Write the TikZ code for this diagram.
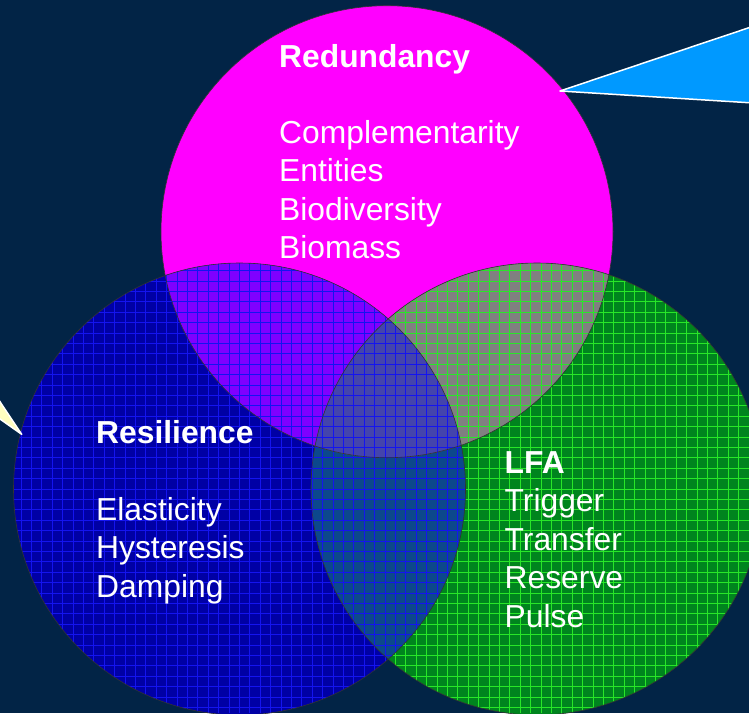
\documentclass[tikz,border=0pt]{standalone}
\usepackage{fontspec}
\setmainfont{Liberation Sans}
\usetikzlibrary{positioning}

\definecolor{bgnavy}{RGB}{2,36,70}
\definecolor{magfill}{RGB}{255,0,255}
\definecolor{blufill}{RGB}{0,0,165}
\definecolor{blugrid}{RGB}{20,20,240}
\definecolor{grnfill}{RGB}{0,132,30}
\definecolor{grngrid}{RGB}{40,230,40}
\definecolor{magblu}{RGB}{128,0,255}
\definecolor{maggrn}{RGB}{128,128,128}
\definecolor{blugrn}{RGB}{12,72,140}
\definecolor{allthree}{RGB}{68,68,172}
\definecolor{callblue}{RGB}{0,153,255}
\definecolor{callyellow}{RGB}{255,255,192}

\tikzset{
  lbl/.style={anchor=base west,inner sep=0pt,text=white,font=\fontsize{31.8}{38.5}\selectfont},
  hdr/.style={lbl,font=\fontsize{31.8}{38.5}\selectfont\bfseries},
  rim/.style={draw=black!80,line width=0.6pt},
  callout/.style={draw=white,line width=1.5pt,line join=round}
}

\begin{document}
\begin{tikzpicture}[x=1pt,y=-1pt]
\useasboundingbox (0,0) rectangle (749,713);
\clip (0,0) rectangle (749,713);
\fill[bgnavy] (0,0) rectangle (749,713);

\coordinate (mag) at (387,231.7);
\coordinate (blu) at (239.5,489);
\coordinate (grn) at (537,489);

% base fills
\fill[magfill] (mag) circle[radius=226pt];
\fill[blufill] (blu) circle[radius=226pt];
\fill[grnfill] (grn) circle[radius=226pt];
\begin{scope}
  \clip (blu) circle[radius=226pt];
  \fill[magblu] (mag) circle[radius=226pt];
  \fill[blugrn] (grn) circle[radius=226pt];
  \clip (grn) circle[radius=226pt];
  \fill[allthree] (mag) circle[radius=226pt];
\end{scope}
\begin{scope}
  \clip (grn) circle[radius=226pt];
  \clip (mag) circle[radius=226pt];
  \fill[maggrn] (0,0) rectangle (749,713);
  \clip (blu) circle[radius=226pt];
  \fill[allthree] (0,0) rectangle (749,713);
\end{scope}

% grids
\begin{scope}
  \clip (grn) circle[radius=226pt];
  \draw[grngrid,line width=0.6pt,step=10.4pt] (0,0) grid (749,713);
\end{scope}
\begin{scope}
  \clip (blu) circle[radius=226pt];
  \draw[blugrid,line width=0.6pt,step=10.4pt] (0,0) grid (749,713);
\end{scope}

% outlines
\draw[rim] (mag) circle[radius=226pt];
\draw[rim] (blu) circle[radius=226pt];
\draw[rim] (grn) circle[radius=226pt];

% callouts
\coordinate (tipb) at (560,91);
\coordinate (tipy) at (21.7,434.3);
\filldraw[callout,fill=callblue] (tipb) -- (760,24) -- (760,103.4) -- cycle;
\filldraw[callout,fill=callyellow] (tipy) -- (-10,386.7) -- (-10,412) -- cycle;

% texts
\node[hdr] (redhead) at (279,67.3) {Redundancy};
\foreach \txt [count=\i] in {Complementarity,Entities,Biodiversity,Biomass}
  \node[lbl] (red\i) at (279,{143.3+38.5*(\i-1)}) {\txt};
\node[hdr] (reshead) at (96,443.3) {Resilience};
\foreach \txt [count=\i] in {Elasticity,Hysteresis,Damping}
  \node[lbl] (res\i) at (96,{520+38.5*(\i-1)}) {\txt};
\node[hdr] (lfahead) at (504.5,473.3) {LFA};
\foreach \txt [count=\i] in {Trigger,Transfer,Reserve,Pulse}
  \node[lbl] (lfa\i) at (504.5,{511.7+38.5*(\i-1)}) {\txt};
\end{tikzpicture}
\end{document}
